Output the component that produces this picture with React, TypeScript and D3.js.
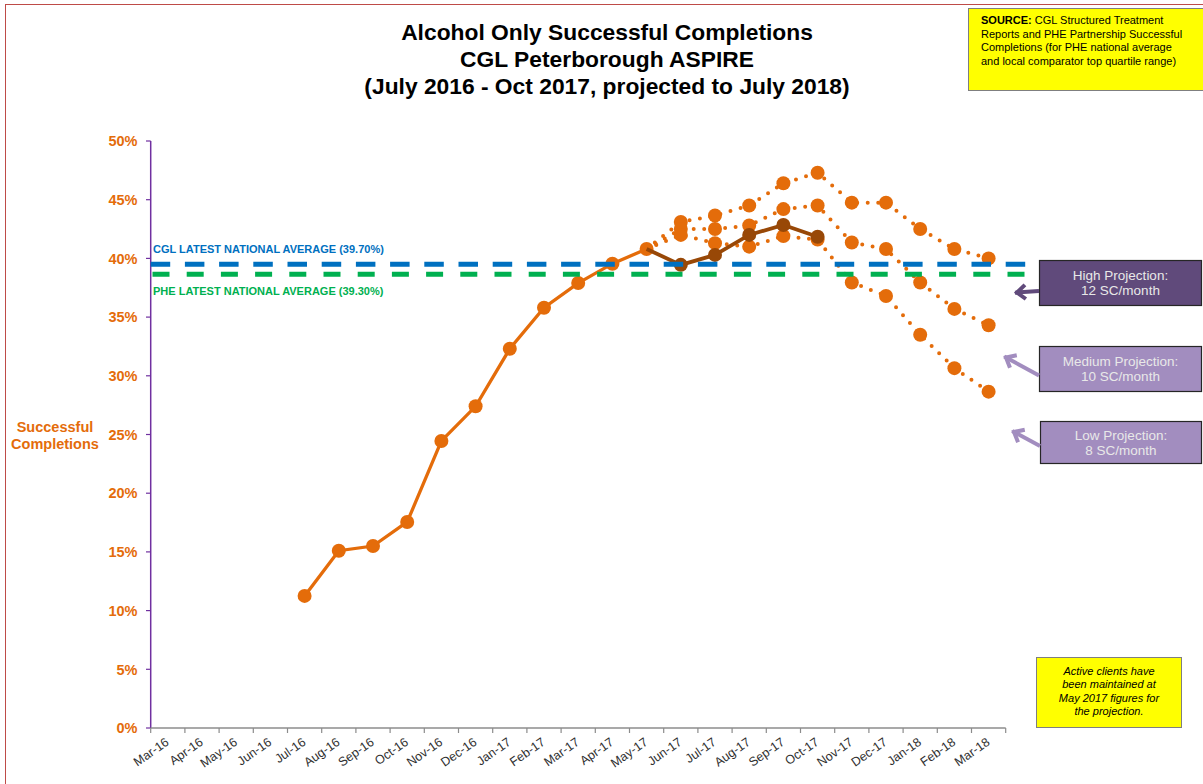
import { useEffect, useRef } from 'react';
import * as d3 from 'd3';

const categories = [
  'Mar-16', 'Apr-16', 'May-16', 'Jun-16', 'Jul-16', 'Aug-16', 'Sep-16', 'Oct-16', 'Nov-16',
  'Dec-16', 'Jan-17', 'Feb-17', 'Mar-17', 'Apr-17', 'May-17', 'Jun-17', 'Jul-17', 'Aug-17',
  'Sep-17', 'Oct-17', 'Nov-17', 'Dec-17', 'Jan-18', 'Feb-18', 'Mar-18'
];

// actual completions (orange line)
const actualMonths = ['Jul-16', 'Aug-16', 'Sep-16', 'Oct-16', 'Nov-16', 'Dec-16', 'Jan-17', 'Feb-17', 'Mar-17', 'Apr-17', 'May-17'];
const actualValues = [11.25, 15.1, 15.5, 17.55, 24.45, 27.4, 32.3, 35.8, 37.9, 39.55, 40.8];

// latest actuals (brown line)
const recentMonths = ['May-17', 'Jun-17', 'Jul-17', 'Aug-17', 'Sep-17', 'Oct-17'];
const recentValues = [40.8, 39.45, 40.3, 42.0, 42.85, 41.85];

// projections (dotted)
const projectionMonths = ['May-17', 'Jun-17', 'Jul-17', 'Aug-17', 'Sep-17', 'Oct-17', 'Nov-17', 'Dec-17', 'Jan-18', 'Feb-18', 'Mar-18'];
const highProjection = [40.8, 43.1, 43.65, 44.5, 46.4, 47.3, 44.75, 44.75, 42.5, 40.8, 40.0];
const mediumProjection = [40.8, 42.5, 42.5, 42.8, 44.2, 44.5, 41.35, 40.8, 37.95, 35.7, 34.3];
const lowProjection = [40.8, 42.0, 41.3, 41.0, 41.9, 41.6, 37.95, 36.8, 33.5, 30.65, 28.65];

const yTicks = [0, 5, 10, 15, 20, 25, 30, 35, 40, 45, 50];

const cglLine = 39.5;
const pheLine = 38.65;
const cglLabel = 'CGL LATEST NATIONAL AVERAGE (39.70%)';
const pheLabel = 'PHE LATEST NATIONAL AVERAGE (39.30%)';

const titleLines = [
  'Alcohol Only Successful Completions',
  'CGL Peterborough ASPIRE',
  '(July 2016 - Oct 2017, projected to July 2018)'
];
const sourceLines = [
  ['SOURCE:', ' CGL Structured Treatment'],
  ['', 'Reports and PHE Partnership Successful'],
  ['', 'Completions (for PHE national average'],
  ['', 'and local comparator top quartile range)']
];
const noteLines = ['Active clients have', 'been maintained at', 'May 2017 figures for', 'the projection.'];

const FONT = '"Liberation Sans", Arial, sans-serif';
const ORANGE = '#E46C0A';
const BROWN = '#984807';

export default function App() {
  const svgRef = useRef<SVGSVGElement>(null);

  useEffect(() => {
    if (!svgRef.current) return;
    const svg = d3.select(svgRef.current);
    svg.selectAll('*').remove();
    svg.style('font-family', FONT);

    const x = d3.scaleBand<string>().domain(categories).range([150.7, 1005.7]).padding(0);
    const y = d3.scaleLinear().domain([0, 50]).range([728, 141]);
    const cx = (m: string) => (x(m) as number) + x.bandwidth() / 2;

    // outer chart border
    svg.append('rect')
      .attr('x', 5.5).attr('y', 4.5)
      .attr('width', 1400).attr('height', 1000)
      .attr('fill', 'white')
      .attr('stroke', '#BE4B48');

    // title
    svg.append('g').selectAll('text')
      .data(titleLines)
      .enter()
      .append('text')
      .attr('x', 607)
      .attr('y', (_, i) => 40 + i * 27)
      .attr('text-anchor', 'middle')
      .attr('font-size', 22.8)
      .attr('font-weight', 'bold')
      .attr('fill', '#000')
      .text(d => d);

    // y axis
    const yAxis = svg.append('g');
    yAxis.append('line')
      .attr('x1', 150.7).attr('x2', 150.7)
      .attr('y1', y(50)).attr('y2', y(0))
      .attr('stroke', '#7030A0').attr('stroke-width', 1.5);
    yTicks.forEach(t => {
      yAxis.append('line')
        .attr('x1', 146).attr('x2', 150.7)
        .attr('y1', y(t)).attr('y2', y(t))
        .attr('stroke', '#7030A0').attr('stroke-width', 1.2);
      yAxis.append('text')
        .attr('x', 137.5).attr('y', y(t))
        .attr('dy', '0.36em')
        .attr('text-anchor', 'end')
        .attr('font-size', 14.5)
        .attr('font-weight', 'bold')
        .attr('fill', ORANGE)
        .text(`${t}%`);
    });

    // y axis title
    svg.append('text')
      .attr('x', 55).attr('y', 432)
      .attr('text-anchor', 'middle')
      .attr('font-size', 14.5).attr('font-weight', 'bold').attr('fill', ORANGE)
      .text('Successful');
    svg.append('text')
      .attr('x', 55).attr('y', 449)
      .attr('text-anchor', 'middle')
      .attr('font-size', 14.5).attr('font-weight', 'bold').attr('fill', ORANGE)
      .text('Completions');

    // x axis
    const xAxis = svg.append('g');
    xAxis.append('line')
      .attr('x1', 150.7).attr('x2', 1005.7)
      .attr('y1', 728).attr('y2', 728)
      .attr('stroke', '#8C8C8C').attr('stroke-width', 1.3);
    [...categories.map(c => x(c) as number), 1005.7].forEach(px => {
      xAxis.append('line')
        .attr('x1', px).attr('x2', px)
        .attr('y1', 728).attr('y2', 733)
        .attr('stroke', '#8C8C8C').attr('stroke-width', 1.2);
    });
    categories.forEach(c => {
      xAxis.append('text')
        .attr('transform', `translate(${cx(c) + 2},${744}) rotate(-35)`)
        .attr('text-anchor', 'end')
        .attr('font-size', 12.5)
        .attr('fill', '#303030')
        .text(c);
    });

    // projections
    const projLine = d3.line<number>()
      .x((_, i) => cx(projectionMonths[i]))
      .y(d => y(d));
    [highProjection, mediumProjection, lowProjection].forEach(series => {
      svg.append('path')
        .attr('d', projLine(series))
        .attr('fill', 'none')
        .attr('stroke', ORANGE)
        .attr('stroke-width', 4)
        .attr('stroke-linecap', 'round')
        .attr('stroke-dasharray', '0 10.5');
      svg.append('g').selectAll('circle')
        .data(series.slice(1))
        .enter()
        .append('circle')
        .attr('cx', (_, i) => cx(projectionMonths[i + 1]))
        .attr('cy', d => y(d))
        .attr('r', 7)
        .attr('fill', ORANGE);
    });

    // actual line
    const actualLine = d3.line<number>()
      .x((_, i) => cx(actualMonths[i]))
      .y(d => y(d));
    svg.append('path')
      .attr('d', actualLine(actualValues))
      .attr('fill', 'none')
      .attr('stroke', ORANGE)
      .attr('stroke-width', 3.3);
    svg.append('g').selectAll('circle')
      .data(actualValues)
      .enter()
      .append('circle')
      .attr('cx', (_, i) => cx(actualMonths[i]))
      .attr('cy', d => y(d))
      .attr('r', 7)
      .attr('fill', ORANGE);

    // recent line
    const recentLine = d3.line<number>()
      .x((_, i) => cx(recentMonths[i]))
      .y(d => y(d));
    svg.append('path')
      .attr('d', recentLine(recentValues))
      .attr('fill', 'none')
      .attr('stroke', BROWN)
      .attr('stroke-width', 3.8);
    svg.append('g').selectAll('circle')
      .data(recentValues.slice(1))
      .enter()
      .append('circle')
      .attr('cx', (_, i) => cx(recentMonths[i + 1]))
      .attr('cy', d => y(d))
      .attr('r', 7)
      .attr('fill', BROWN);

    // national average reference lines
    svg.append('line')
      .attr('x1', 150.7).attr('x2', 1031)
      .attr('y1', y(cglLine)).attr('y2', y(cglLine))
      .attr('stroke', '#0070C0').attr('stroke-width', 5)
      .attr('stroke-dasharray', '19.5 14.7');
    svg.append('line')
      .attr('x1', 152.5).attr('x2', 1031)
      .attr('y1', y(pheLine)).attr('y2', y(pheLine))
      .attr('stroke', '#00B050').attr('stroke-width', 5)
      .attr('stroke-dasharray', '17 17.2');
    svg.append('text')
      .attr('x', 153).attr('y', y(cglLine) - 11)
      .attr('font-size', 11).attr('font-weight', 'bold').attr('fill', '#0070C0')
      .text(cglLabel);
    svg.append('text')
      .attr('x', 153).attr('y', y(pheLine) + 21)
      .attr('font-size', 11).attr('font-weight', 'bold').attr('fill', '#00B050')
      .text(pheLabel);

    // source box
    svg.append('rect')
      .attr('x', 968.5).attr('y', 8.5).attr('width', 240).attr('height', 82)
      .attr('fill', '#FFFF00').attr('stroke', '#7F7F7F');
    sourceLines.forEach((l, i) => {
      const t = svg.append('text')
        .attr('x', 981).attr('y', 24 + i * 13.6)
        .attr('font-size', 11).attr('fill', '#000');
      if (l[0]) t.append('tspan').attr('font-weight', 'bold').text(l[0]);
      t.append('tspan').text(l[1]);
    });

    // note box
    svg.append('rect')
      .attr('x', 1036.5).attr('y', 657.5).attr('width', 145).attr('height', 70)
      .attr('fill', '#FFFF00').attr('stroke', '#7F7F7F');
    noteLines.forEach((l, i) => {
      svg.append('text')
        .attr('x', 1109).attr('y', 675 + i * 13.4)
        .attr('text-anchor', 'middle')
        .attr('font-size', 11).attr('font-style', 'italic').attr('fill', '#000')
        .text(l);
    });

    // projection callouts
    const callouts = [
      { box: [1039.5, 260.5, 162, 45], fill: '#604A7B', lines: ['High Projection:', '12 SC/month'], tail: [1039, 291], tip: [1017, 292.5] },
      { box: [1039.5, 346.5, 162, 45], fill: '#A28DBF', lines: ['Medium Projection:', '10 SC/month'], tail: [1039, 375.5], tip: [1006, 357.5] },
      { box: [1040.5, 421.5, 161, 42], fill: '#A28DBF', lines: ['Low Projection:', '8 SC/month'], tail: [1040, 446], tip: [1014, 432] }
    ];
    callouts.forEach(c => {
      const [bx, by, bw, bh] = c.box;
      svg.append('rect')
        .attr('x', bx).attr('y', by).attr('width', bw).attr('height', bh)
        .attr('fill', c.fill).attr('stroke', '#262626').attr('stroke-width', 1.2);
      c.lines.forEach((l, i) => {
        svg.append('text')
          .attr('x', bx + bw / 2).attr('y', by + bh / 2 - 3 + i * 15)
          .attr('text-anchor', 'middle')
          .attr('font-size', 13.5).attr('fill', '#E8E8E8')
          .text(l);
      });
      const ang = Math.atan2(c.tip[1] - c.tail[1], c.tip[0] - c.tail[0]);
      const len = 11;
      const spread = 0.7;
      const a1 = [c.tip[0] - len * Math.cos(ang - spread), c.tip[1] - len * Math.sin(ang - spread)];
      const a2 = [c.tip[0] - len * Math.cos(ang + spread), c.tip[1] - len * Math.sin(ang + spread)];
      svg.append('line')
        .attr('x1', c.tail[0]).attr('y1', c.tail[1])
        .attr('x2', c.tip[0] + 2 * Math.cos(ang)).attr('y2', c.tip[1] + 2 * Math.sin(ang))
        .attr('stroke', c.fill).attr('stroke-width', 4);
      svg.append('path')
        .attr('d', `M${a1[0]},${a1[1]}L${c.tip[0]},${c.tip[1]}L${a2[0]},${a2[1]}`)
        .attr('fill', 'none')
        .attr('stroke', c.fill).attr('stroke-width', 4)
        .attr('stroke-linejoin', 'miter');
    });
  }, []);

  return (
    <svg
      ref={svgRef}
      width={1203}
      height={784}
      style={{ position: 'absolute', left: 0, top: 0, background: 'white' }}
    />
  );
}
